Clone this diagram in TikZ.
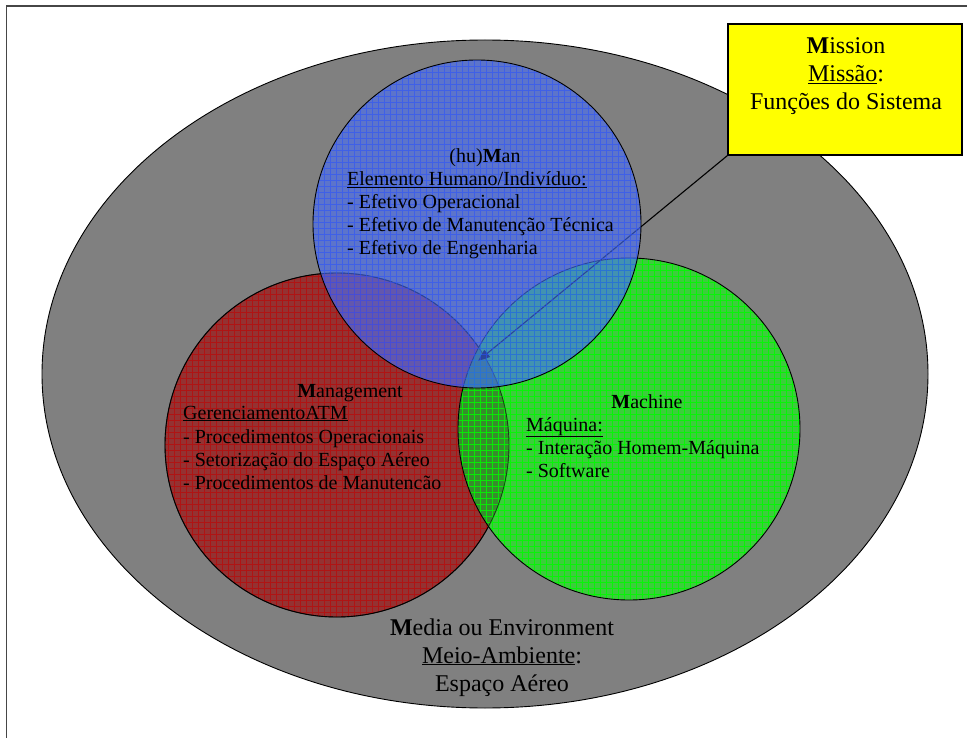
\documentclass[tikz,border=0pt]{standalone}
\usepackage{fontspec}
\setmainfont{Liberation Serif}
\usetikzlibrary{arrows.meta}

\definecolor{envgray}{RGB}{128,128,128}
\definecolor{framegray}{RGB}{70,70,70}
\definecolor{humanfill}{RGB}{70,110,250}
\definecolor{humangrid}{RGB}{40,80,255}
\definecolor{mgmtfill}{RGB}{148,50,50}
\definecolor{mgmtgrid}{RGB}{175,20,20}
\definecolor{machfill}{RGB}{60,205,60}
\definecolor{machgrid}{RGB}{0,250,0}
\definecolor{lensfill}{RGB}{55,140,45}
\definecolor{missionyellow}{RGB}{255,255,0}

\tikzset{
  outline/.style={draw=black, line width=0.9pt},
  gridlines/.style={line width=0.5pt},
  bodytext/.style={font=\fontsize{20}{23}\selectfont, inner sep=0pt, anchor=base west},
  headtext/.style={font=\fontsize{20}{23}\selectfont, inner sep=0pt, anchor=base},
  bigtext/.style={font=\fontsize{24}{28}\selectfont, inner sep=0pt, anchor=base},
  missionbox/.style={draw=black, line width=1.1pt, fill=missionyellow,
    minimum width=234, minimum height=131, inner sep=0pt},
  pointer/.style={draw=black, line width=1.1pt,
    -{Triangle[length=12pt,width=9pt]}},
}

\begin{document}
\begin{tikzpicture}[x=1pt,y=-1pt]
\useasboundingbox (0,0) rectangle (967,738);

% page frame (left and top edges)
\draw[framegray, line width=1.4pt] (6.5,738) -- (6.5,6) -- (967,6);

% centres of the sets
\coordinate (env) at (485,374);
\coordinate (man) at (477,224);
\coordinate (mgmt) at (337,445);
\coordinate (mach) at (629,429);

% environment
\fill[envgray] (env) ellipse[x radius=443, y radius=334];
\draw[outline] (env) ellipse[x radius=443, y radius=334];

% management
\begin{scope}
  \clip (mgmt) circle[radius=172];
  \fill[mgmtfill] (0,0) rectangle (967,738);
  \draw[gridlines, mgmtgrid, step=6pt] (0,0) grid (967,738);
\end{scope}
\draw[outline] (mgmt) circle[radius=172];

% machine
\begin{scope}
  \clip (mach) circle[radius=171];
  \fill[machfill] (0,0) rectangle (967,738);
  \begin{scope}
    \clip (mgmt) circle[radius=172];
    \fill[lensfill] (0,0) rectangle (967,738);
  \end{scope}
  \draw[gridlines, machgrid, opacity=0.85, step=6pt] (0,0) grid (967,738);
\end{scope}
\draw[outline, draw opacity=0.6] (mgmt) circle[radius=172];
\draw[outline] (mach) circle[radius=171];

% mission box and pointer into the common area
\node[missionbox] (mission) at (845,89.5) {};
\coordinate (core) at (478,361);
\draw[pointer] (mission.south west) -- (core);

% human element
\begin{scope}
  \clip (man) circle[radius=164];
  \fill[humanfill, fill opacity=0.62] (0,0) rectangle (967,738);
  \draw[gridlines, humangrid, opacity=0.55, step=6pt] (0,0) grid (967,738);
\end{scope}
\draw[outline] (man) circle[radius=164];

% mission box drawn again above the ellipse edge
\node[missionbox] (missionTop) at (845,89.5) {};

% mission text
\node[bigtext] (mi1) at (846,54) {{\bfseries M}ission};
\node[bigtext] (mi2) at (846,82) {\underline{Missão}:};
\node[bigtext] (mi3) at (846,110) {Funções do Sistema};

% human text
\node[headtext] (h0) at (485,163) {(hu){\bfseries M}an};
\node[bodytext] (h1) at (347,186) {\underline{Elemento Humano/Indivíduo:}};
\node[bodytext] (h2) at (347,209) {- Efetivo Operacional};
\node[bodytext] (h3) at (347,232) {- Efetivo de Manutenção Técnica};
\node[bodytext] (h4) at (347,255) {- Efetivo de Engenharia};

% management text
\node[headtext] (g0) at (350,397) {{\bfseries M}anagement};
\node[bodytext] (g1) at (183,419) {\underline{GerenciamentoATM}};
\node[bodytext] (g2) at (183,443) {- Procedimentos Operacionais};
\node[bodytext] (g3) at (183,466) {- Setorização do Espaço Aéreo};
\node[bodytext] (g4) at (183,489) {- Procedimentos de Manutencão};

% machine text
\node[headtext] (c0) at (647,408) {{\bfseries M}achine};
\node[bodytext] (c1) at (526,431) {\underline{Máquina:}};
\node[bodytext] (c2) at (526,454) {- Interação Homem-Máquina};
\node[bodytext] (c3) at (526,477) {- Software};

% environment text
\node[bigtext] (e1) at (502,635) {{\bfseries M}edia ou Environment};
\node[bigtext] (e2) at (502,663) {\underline{Meio-Ambiente}:};
\node[bigtext] (e3) at (502,691) {Espaço Aéreo};
\end{tikzpicture}
\end{document}
